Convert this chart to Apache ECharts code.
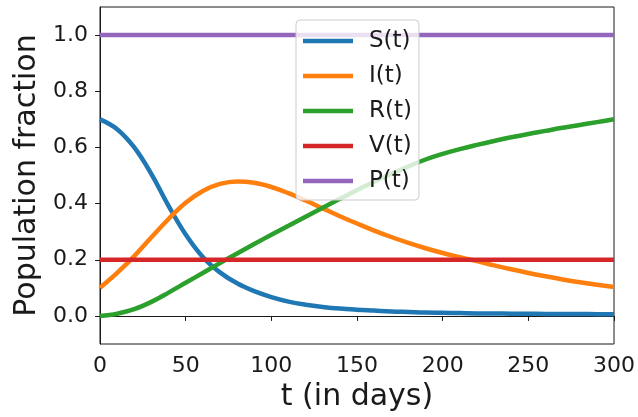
<!DOCTYPE html>
<html>
<head>
<meta charset="utf-8">
<script src="https://cdn.jsdelivr.net/npm/echarts@6/dist/echarts.min.js"></script>
<style>
  html, body { margin: 0; padding: 0; background: #fff; }
  #chart { width: 638px; height: 417px; }
</style>
</head>
<body>
<div id="chart"></div>
<script>
  // days, every 10 days from 0 to 300
  const days = [0, 10, 20, 30, 40, 50, 60, 70, 80, 90, 100, 110, 120, 130, 140, 150,
    160, 170, 180, 190, 200, 210, 220, 230, 240, 250, 260, 270, 280, 290, 300];

  const susceptible = [0.70, 0.665, 0.60, 0.505, 0.392, 0.29, 0.21, 0.155, 0.116, 0.088, 0.067,
    0.051, 0.04, 0.032, 0.026, 0.022, 0.019, 0.016, 0.014, 0.012, 0.011,
    0.010, 0.009, 0.009, 0.008, 0.008, 0.007, 0.007, 0.007, 0.006, 0.006];

  const infected = [0.10, 0.153, 0.213, 0.28, 0.345, 0.403, 0.445, 0.47, 0.479, 0.474, 0.459,
    0.437, 0.411, 0.383, 0.355, 0.329, 0.304, 0.281, 0.26, 0.241, 0.224,
    0.209, 0.195, 0.18, 0.166, 0.153, 0.141, 0.13, 0.12, 0.111, 0.103];

  const recovered = [0.0, 0.008, 0.024, 0.05, 0.083, 0.118, 0.153, 0.188, 0.222, 0.256, 0.289,
    0.321, 0.353, 0.385, 0.417, 0.448, 0.478, 0.506, 0.532, 0.557, 0.577,
    0.594, 0.609, 0.623, 0.636, 0.648, 0.659, 0.67, 0.68, 0.69, 0.70];

  const vaccinated = [0.2, 0.2, 0.2, 0.2, 0.2, 0.2, 0.2, 0.2, 0.2, 0.2, 0.2,
    0.2, 0.2, 0.2, 0.2, 0.2, 0.2, 0.2, 0.2, 0.2, 0.2,
    0.2, 0.2, 0.2, 0.2, 0.2, 0.2, 0.2, 0.2, 0.2, 0.2];

  const population = [1, 1, 1, 1, 1, 1, 1, 1, 1, 1, 1,
    1, 1, 1, 1, 1, 1, 1, 1, 1, 1,
    1, 1, 1, 1, 1, 1, 1, 1, 1, 1];

  const yTicks = [0, 0.2, 0.4, 0.6, 0.8, 1.0];

  const names = ['S(t)', 'I(t)', 'R(t)', 'V(t)', 'P(t)'];
  const colors = ['#1f77b4', '#ff7f0e', '#2ca02c', '#d62728', '#9467bd'];
  const allValues = [susceptible, infected, recovered, vaccinated, population];

  const font = 'DejaVu Sans';
  const ink = '#1a1a1a';

  function pairs(vals) {
    return days.map((d, i) => [d, vals[i]]);
  }

  const series = names.map((n, k) => ({
    name: n,
    type: 'line',
    data: pairs(allValues[k]),
    smooth: k < 3 ? 0.4 : false,
    showSymbol: false,
    symbol: 'none',
    color: colors[k],
    lineStyle: { width: 4.5, color: colors[k] },
    animation: false
  }));

  const chart = echarts.init(document.getElementById('chart'), null, { renderer: 'canvas' });

  chart.setOption({
    backgroundColor: '#fff',
    animation: false,
    grid: {
      left: 100, right: 21, top: 7, bottom: 73,
      show: true, borderColor: ink, borderWidth: 1, backgroundColor: 'transparent'
    },
    legend: {
      left: 296, top: 20,
      orient: 'vertical',
      icon: 'rect',
      itemWidth: 50, itemHeight: 4.5, itemGap: 11,
      padding: [9, 7, 7, 7],
      backgroundColor: 'rgba(255,255,255,0.8)',
      borderColor: '#ccc', borderWidth: 1, borderRadius: 4,
      textStyle: { fontFamily: font, fontSize: 23, lineHeight: 24, color: ink, padding: [0, 0, 0, 11] },
      data: names
    },
    xAxis: {
      type: 'value',
      min: 0, max: 300, interval: 50,
      name: 't (in days)',
      nameLocation: 'middle',
      nameGap: 37,
      nameTextStyle: { fontFamily: font, fontSize: 30, color: ink },
      axisLine: { show: true, lineStyle: { color: ink, width: 1 } },
      axisTick: { show: true, length: 5, lineStyle: { color: ink } },
      axisLabel: { fontFamily: font, fontSize: 22, color: ink, margin: 11 },
      splitLine: { show: false }
    },
    yAxis: {
      type: 'value',
      min: -0.1, max: 1.1,
      name: 'Population fraction',
      nameLocation: 'middle',
      nameGap: 50,
      nameTextStyle: { fontFamily: font, fontSize: 30, color: ink },
      axisLine: { show: true, lineStyle: { color: ink, width: 1 } },
      axisTick: { show: true, length: 5, lineStyle: { color: ink }, customValues: yTicks },
      axisLabel: {
        fontFamily: font, fontSize: 22, color: ink, margin: 12,
        customValues: yTicks,
        formatter: v => v.toFixed(1)
      },
      splitLine: { show: false }
    },
    series: series
  });
</script>
</body>
</html>
